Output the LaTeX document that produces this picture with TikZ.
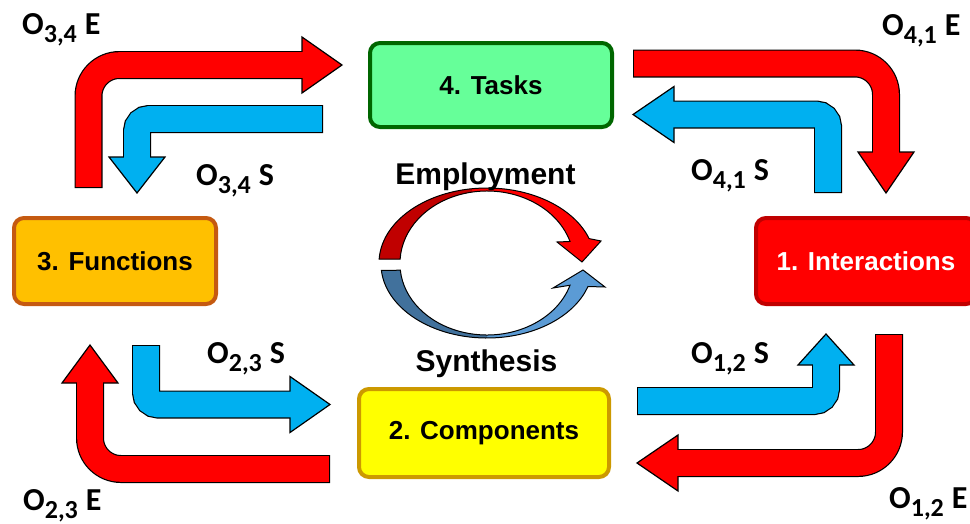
\documentclass[tikz,border=0pt]{standalone}
\usepackage{fontspec}
\setmainfont{Liberation Sans}
\newfontfamily\labfont{Carlito}
\usepackage{xcolor}
\usetikzlibrary{calc}

\definecolor{taskfill}{HTML}{66FF99}
\definecolor{taskline}{HTML}{006600}
\definecolor{funcfill}{HTML}{FFC000}
\definecolor{funcline}{HTML}{C55A11}
\definecolor{interfill}{HTML}{FF0000}
\definecolor{interline}{HTML}{C00000}
\definecolor{compfill}{HTML}{FFFF00}
\definecolor{compline}{HTML}{CC9900}
\definecolor{flowred}{HTML}{FF0000}
\definecolor{flowblue}{HTML}{00B0F0}
\definecolor{arcred}{HTML}{FF0000}
\definecolor{arcreddark}{HTML}{C00000}
\definecolor{arcblue}{HTML}{5B9BD5}
\definecolor{arcbluedark}{HTML}{41719C}

% bent arrow: colour, radius, tail, corner, head base, tip
\newcommand\bentarrow[6]{%
  \draw[line width=28pt, rounded corners=#2] #3 -- #4 -- #5;
  \filldraw[fill=#1, line width=1.2pt, line join=miter]
    #5 -- ($#5!28pt!90:#6$) -- #6 -- ($#5!28pt!-90:#6$) -- cycle;
  \draw[#1, line width=25.6pt, rounded corners=#2, shorten <=1.2pt, shorten >=-3pt]
    #3 -- #4 -- #5;
}
\newcommand\olab[2]{O\raisebox{-8pt}{\fontsize{26}{26}\selectfont #1}\hspace{8pt}#2}

% the two curved arrows in the middle
\newcommand\redarc{([shift={(487,263)}]183:108 and 75)
  arc[start angle=183, end angle=341, x radius=108, y radius=75]
  -- (601,241) -- (582,262) -- (557,242)
  -- ([shift={(487,263)}]342.6:87 and 72)
  arc[start angle=342.6, end angle=183, x radius=87, y radius=72] -- cycle}
\newcommand\bluearc{([shift={(487,264)}]175:106 and 74)
  arc[start angle=175, end angle=17.7, x radius=106, y radius=74]
  -- (605,287) -- (583,270) -- (553,288)
  -- ([shift={(487,264)}]17.4:87 and 71)
  arc[start angle=17.4, end angle=175, x radius=87, y radius=71] -- cycle}

\begin{document}
\begin{tikzpicture}[
    x=1pt, y=-1pt,
    box/.style={draw, rounded corners=10pt, line width=4pt, inner sep=0pt,
      font=\bfseries\fontsize{26}{30}\selectfont},
    lab/.style={inner sep=0pt, anchor=base west,
      font=\labfont\bfseries\fontsize{32}{36}\selectfont},
    arclab/.style={inner sep=0pt, anchor=base,
      font=\bfseries\fontsize{30}{34}\selectfont},
  ]
  \useasboundingbox (0,0) rectangle (970,523);

  % flows between the boxes
  \bentarrow{flowred}{31pt}{(88.5,188)}{(88.5,65)}{(302,65)}{(342,65)}
  \bentarrow{flowblue}{12pt}{(323,119)}{(137,119)}{(137,157)}{(137,193)}
  \bentarrow{flowred}{31pt}{(633,63.5)}{(886,63.5)}{(886,152)}{(886,193)}
  \bentarrow{flowblue}{12pt}{(828,193)}{(828,114.5)}{(674,114.5)}{(633,114.5)}
  \bentarrow{flowred}{31pt}{(330,469)}{(90,469)}{(90,383)}{(90,345)}
  \bentarrow{flowblue}{12pt}{(146,345)}{(146,404.5)}{(290,404.5)}{(330,404.5)}
  \bentarrow{flowblue}{12pt}{(637,401)}{(826,401)}{(826,365)}{(826,334)}
  \bentarrow{flowred}{31pt}{(889,334)}{(889,463)}{(678,463)}{(637,463)}

  % boxes
  \node[box, fill=taskfill, draw=taskline, minimum width=242pt, minimum height=84pt]
    (tasks) at (491,85) {4. Tasks};
  \node[box, fill=funcfill, draw=funcline, minimum width=202pt, minimum height=86pt]
    (functions) at (115,261) {3. Functions};
  \node[box, fill=interfill, draw=interline, text=white, minimum width=220pt, minimum height=86pt]
    (interactions) at (866,261) {1. Interactions};
  \node[box, fill=compfill, draw=compline, minimum width=250pt, minimum height=88pt]
    (components) at (484,433) {2. Components};

  % flow labels
  \node[lab] (o34e) at (22,34) {\olab{3,4}{E}};
  \node[lab] (o34s) at (196,185) {\olab{3,4}{S}};
  \node[lab] (o41e) at (882,35) {\olab{4,1}{E}};
  \node[lab] (o41s) at (691,180) {\olab{4,1}{S}};
  \node[lab] (o23s) at (207,363) {\olab{2,3}{S}};
  \node[lab] (o23e) at (23,510) {\olab{2,3}{E}};
  \node[lab] (o12s) at (691,363) {\olab{1,2}{S}};
  \node[lab] (o12e) at (889,508) {\olab{1,2}{E}};

  % cycle in the middle
  \fill[arcred] \redarc;
  \begin{scope}
    \clip (370,150) rectangle (472,270);
    \fill[arcreddark] \redarc;
  \end{scope}
  \draw[line width=1pt] \redarc;
  \fill[arcblue] \bluearc;
  \begin{scope}
    \clip (370,260) rectangle (487,350);
    \fill[arcbluedark] \bluearc;
  \end{scope}
  \draw[line width=1pt] \bluearc;

  \node[arclab] (employ) at (485.5,184) {Employment};
  \node[arclab] (synth) at (486.5,371) {Synthesis};
\end{tikzpicture}
\end{document}
